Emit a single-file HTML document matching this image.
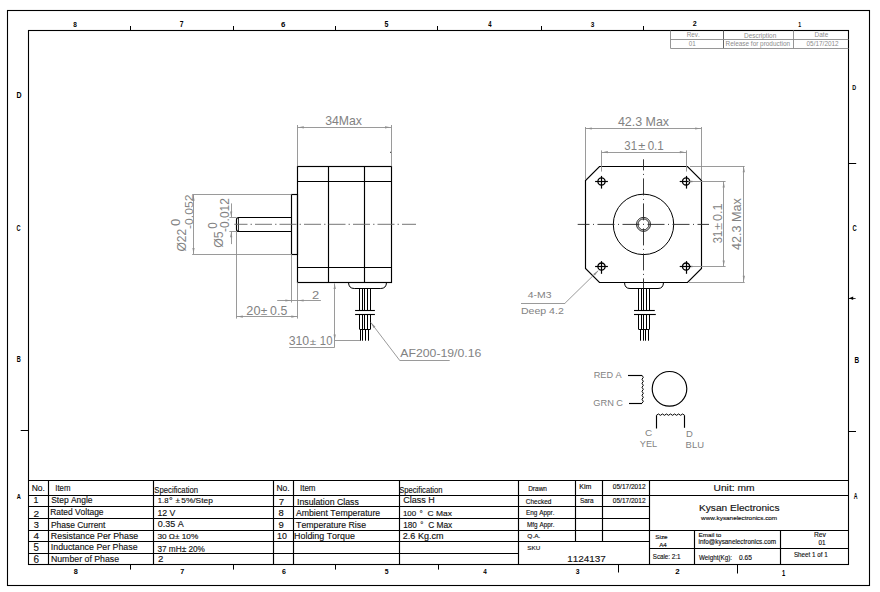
<!DOCTYPE html>
<html><head><meta charset="utf-8"><style>
html,body{margin:0;padding:0;background:#fff;}
body{width:880px;height:592px;overflow:hidden;position:relative;}
svg{position:absolute;left:0;top:0;font-family:"Liberation Sans",sans-serif;font-kerning:none;}
</style></head><body>
<svg width="880" height="592" viewBox="0 0 880 592">
<rect x="0" y="0" width="880" height="592" fill="#fff"/>
<rect x="7.50" y="10.50" width="862.00" height="575.00" fill="none" stroke="#000" stroke-width="1.10"/>
<rect x="28.50" y="30.50" width="820.00" height="534.00" fill="none" stroke="#000" stroke-width="1.10"/>
<line x1="130.50" y1="26.00" x2="130.50" y2="30.50" stroke="#000" stroke-width="1.00"/>
<line x1="233.50" y1="26.00" x2="233.50" y2="30.50" stroke="#000" stroke-width="1.00"/>
<line x1="335.50" y1="26.00" x2="335.50" y2="30.50" stroke="#000" stroke-width="1.00"/>
<line x1="437.50" y1="26.00" x2="437.50" y2="30.50" stroke="#000" stroke-width="1.00"/>
<line x1="541.50" y1="26.00" x2="541.50" y2="30.50" stroke="#000" stroke-width="1.00"/>
<line x1="643.50" y1="26.00" x2="643.50" y2="30.50" stroke="#000" stroke-width="1.00"/>
<line x1="130.50" y1="564.30" x2="130.50" y2="569.60" stroke="#000" stroke-width="1.00"/>
<line x1="233.50" y1="564.30" x2="233.50" y2="569.60" stroke="#000" stroke-width="1.00"/>
<line x1="335.50" y1="564.30" x2="335.50" y2="569.60" stroke="#000" stroke-width="1.00"/>
<line x1="438.50" y1="564.30" x2="438.50" y2="569.60" stroke="#000" stroke-width="1.00"/>
<line x1="618.50" y1="564.30" x2="618.50" y2="572.50" stroke="#000" stroke-width="1.00"/>
<line x1="737.50" y1="564.30" x2="737.50" y2="573.50" stroke="#000" stroke-width="1.00"/>
<line x1="20.70" y1="430.50" x2="28.50" y2="430.50" stroke="#000" stroke-width="1.00"/>
<line x1="848.50" y1="163.50" x2="856.20" y2="163.50" stroke="#000" stroke-width="1.00"/>
<line x1="848.50" y1="298.50" x2="855.60" y2="298.50" stroke="#000" stroke-width="0.80"/>
<path d="M849 298.2 L853.2 296.4 L853.2 299.9 Z" fill="#000"/>
<line x1="848.50" y1="431.50" x2="856.00" y2="431.50" stroke="#000" stroke-width="1.00"/>
<text transform="translate(73.29 26.70) scale(0.8083 1)" font-size="8.02" fill="#000" font-weight="bold">8</text>
<text transform="translate(179.81 26.70) scale(0.8378 1)" font-size="8.14" fill="#000" font-weight="bold">7</text>
<text transform="translate(280.91 26.70) scale(0.9802 1)" font-size="8.02" fill="#000" font-weight="bold">6</text>
<text transform="translate(384.38 26.70) scale(0.8642 1)" font-size="8.14" fill="#000" font-weight="bold">5</text>
<text transform="translate(488.21 26.70) scale(0.7339 1)" font-size="8.14" fill="#000" font-weight="bold">4</text>
<text transform="translate(590.65 26.70) scale(0.8027 1)" font-size="8.02" fill="#000" font-weight="bold">3</text>
<text transform="translate(692.76 25.90) scale(0.8966 1)" font-size="7.88" fill="#000" font-weight="bold">2</text>
<text transform="translate(798.28 27.00) scale(0.6824 1)" font-size="7.56" fill="#000" font-weight="bold">1</text>
<text transform="translate(73.87 574.10) scale(0.9258 1)" font-size="7.88" fill="#000" font-weight="bold">8</text>
<text transform="translate(180.19 574.10) scale(0.9064 1)" font-size="7.99" fill="#000" font-weight="bold">7</text>
<text transform="translate(282.04 574.10) scale(0.8929 1)" font-size="7.88" fill="#000" font-weight="bold">6</text>
<text transform="translate(384.79 574.10) scale(0.8548 1)" font-size="7.99" fill="#000" font-weight="bold">5</text>
<text transform="translate(483.30 574.10) scale(0.7940 1)" font-size="7.99" fill="#000" font-weight="bold">4</text>
<text transform="translate(575.74 574.10) scale(0.8684 1)" font-size="7.88" fill="#000" font-weight="bold">3</text>
<text transform="translate(675.23 574.10) scale(1.0020 1)" font-size="7.88" fill="#000" font-weight="bold">2</text>
<text transform="translate(781.93 575.90) scale(0.7003 1)" font-size="8.29" fill="#000" font-weight="bold">1</text>
<text transform="translate(16.53 98.00) scale(0.8317 1)" font-size="8.43" fill="#000" font-weight="bold">D</text>
<text transform="translate(16.57 231.00) scale(0.6478 1)" font-size="8.74" fill="#000" font-weight="bold">C</text>
<text transform="translate(16.73 362.00) scale(0.6288 1)" font-size="8.87" fill="#000" font-weight="bold">B</text>
<text transform="translate(16.76 498.70) scale(0.7085 1)" font-size="7.99" fill="#000" font-weight="bold">A</text>
<text transform="translate(852.34 90.00) scale(0.7259 1)" font-size="7.41" fill="#000" font-weight="bold">D</text>
<text transform="translate(852.56 231.00) scale(0.6997 1)" font-size="8.31" fill="#000" font-weight="bold">C</text>
<text transform="translate(854.57 362.60) scale(0.7719 1)" font-size="8.29" fill="#000" font-weight="bold">B</text>
<text transform="translate(853.77 498.60) scale(0.6297 1)" font-size="8.29" fill="#000" font-weight="bold">A</text>
<line x1="670.50" y1="30.50" x2="670.50" y2="48.40" stroke="#8a8a8a" stroke-width="0.90"/>
<line x1="723.50" y1="30.50" x2="723.50" y2="48.40" stroke="#555" stroke-width="0.90"/>
<line x1="793.50" y1="30.50" x2="793.50" y2="48.40" stroke="#8a8a8a" stroke-width="0.90"/>
<line x1="670.50" y1="39.50" x2="848.50" y2="39.50" stroke="#8a8a8a" stroke-width="0.90"/>
<line x1="670.50" y1="48.50" x2="848.50" y2="48.50" stroke="#8a8a8a" stroke-width="0.90"/>
<text transform="translate(686.68 37.10) scale(0.9059 1)" font-size="6.98" fill="#8c8c8c">Rev.</text>
<text transform="translate(743.97 37.70) scale(0.9971 1)" font-size="6.49" fill="#8c8c8c">Description</text>
<text transform="translate(814.57 37.10) scale(0.9931 1)" font-size="6.54" fill="#8c8c8c">Date</text>
<text transform="translate(688.86 45.90) scale(0.9483 1)" font-size="6.59" fill="#8c8c8c">01</text>
<text transform="translate(725.57 45.90) scale(0.9905 1)" font-size="6.49" fill="#8c8c8c">Release for production</text>
<text transform="translate(806.55 45.90) scale(1.0127 1)" font-size="6.35" fill="#8c8c8c">05/17/2012</text>
<rect x="297.50" y="166.50" width="94.00" height="116.00" fill="none" stroke="#000" stroke-width="1.15"/>
<line x1="297.40" y1="181.50" x2="391.40" y2="181.50" stroke="#000" stroke-width="1.15"/>
<line x1="297.40" y1="267.50" x2="391.40" y2="267.50" stroke="#000" stroke-width="1.15"/>
<line x1="328.50" y1="166.30" x2="328.50" y2="282.30" stroke="#000" stroke-width="1.15"/>
<line x1="364.50" y1="166.30" x2="364.50" y2="282.30" stroke="#000" stroke-width="1.15"/>
<rect x="291.50" y="194.50" width="6.00" height="60.00" fill="none" stroke="#000" stroke-width="1.15"/>
<path d="M291.5 217.5 L238.8 217.5 Q236.5 217.5 236.5 219.8 L236.5 229.2 Q236.5 231.5 238.8 231.5 L291.5 231.5" fill="none" stroke="#000" stroke-width="1.15"/>
<line x1="238.50" y1="217.60" x2="238.50" y2="231.10" stroke="#000" stroke-width="0.80"/>
<path d="M348.5 282.5 Q348.7 288.5 354.3 288.5 L380.7 288.5 Q386.3 288.5 386.5 282.5" fill="none" stroke="#000" stroke-width="1.00"/>
<line x1="359.50" y1="288.60" x2="359.50" y2="310.30" stroke="#000" stroke-width="1.05"/>
<line x1="359.50" y1="314.40" x2="359.50" y2="329.10" stroke="#000" stroke-width="1.05"/>
<line x1="362.50" y1="288.60" x2="362.50" y2="310.30" stroke="#000" stroke-width="1.05"/>
<line x1="362.50" y1="314.40" x2="362.50" y2="329.10" stroke="#000" stroke-width="1.05"/>
<line x1="364.50" y1="288.60" x2="364.50" y2="310.30" stroke="#000" stroke-width="1.05"/>
<line x1="364.50" y1="314.40" x2="364.50" y2="329.10" stroke="#000" stroke-width="1.05"/>
<line x1="367.50" y1="288.60" x2="367.50" y2="310.30" stroke="#000" stroke-width="1.05"/>
<line x1="367.50" y1="314.40" x2="367.50" y2="329.10" stroke="#000" stroke-width="1.05"/>
<line x1="370.50" y1="288.60" x2="370.50" y2="310.30" stroke="#000" stroke-width="1.05"/>
<line x1="370.50" y1="314.40" x2="370.50" y2="329.10" stroke="#000" stroke-width="1.05"/>
<line x1="359.50" y1="329.50" x2="370.50" y2="329.50" stroke="#000" stroke-width="1.05"/>
<line x1="360.50" y1="329.10" x2="360.50" y2="340.70" stroke="#000" stroke-width="1.05"/>
<line x1="362.50" y1="329.10" x2="362.50" y2="340.70" stroke="#000" stroke-width="1.05"/>
<line x1="365.50" y1="329.10" x2="365.50" y2="340.70" stroke="#000" stroke-width="1.05"/>
<line x1="368.50" y1="329.10" x2="368.50" y2="340.70" stroke="#000" stroke-width="1.05"/>
<line x1="355.10" y1="310.50" x2="374.90" y2="310.50" stroke="#000" stroke-width="1.10"/>
<line x1="355.10" y1="314.50" x2="374.90" y2="314.50" stroke="#000" stroke-width="1.10"/>
<line x1="416" y1="224.3" x2="234.3" y2="224.3" stroke="#666" stroke-width="0.9" stroke-dasharray="17 3 1.5 3" stroke-dashoffset="3"/>
<rect x="390.2" y="151.8" width="1" height="1" fill="#000"/>
<line x1="297.50" y1="125.00" x2="297.50" y2="166.30" stroke="#8e8e8e" stroke-width="0.90"/>
<line x1="391.50" y1="125.00" x2="391.50" y2="166.30" stroke="#8e8e8e" stroke-width="0.90"/>
<line x1="297.50" y1="127.50" x2="391.30" y2="127.50" stroke="#8e8e8e" stroke-width="0.90"/>
<path d="M298.30 127.30 L303.80 126.20 L303.80 128.40 Z" fill="#8e8e8e"/>
<path d="M390.50 127.30 L385.00 128.40 L385.00 126.20 Z" fill="#8e8e8e"/>
<text transform="translate(325.13 124.75) scale(1.0099 1)" font-size="12.17" fill="#828282">34Max</text>
<line x1="192.20" y1="194.50" x2="291.50" y2="194.50" stroke="#8e8e8e" stroke-width="0.90"/>
<line x1="192.20" y1="254.50" x2="291.50" y2="254.50" stroke="#8e8e8e" stroke-width="0.90"/>
<line x1="193.50" y1="194.50" x2="193.50" y2="254.20" stroke="#8e8e8e" stroke-width="0.90"/>
<path d="M193.50 195.30 L194.60 200.80 L192.40 200.80 Z" fill="#8e8e8e"/>
<path d="M193.50 253.40 L192.40 247.90 L194.60 247.90 Z" fill="#8e8e8e"/>
<text transform="translate(186.00 251.62) rotate(-90) scale(0.9396 1)" font-size="12.85" fill="#828282">Ø22</text>
<text transform="translate(180.00 226.11) rotate(-90) scale(1.0225 1)" font-size="12.89" fill="#828282">0</text>
<text transform="translate(192.60 229.04) rotate(-90) scale(1.0636 1)" font-size="11.46" fill="#828282">-0.052</text>
<line x1="229.40" y1="217.50" x2="236.50" y2="217.50" stroke="#8e8e8e" stroke-width="0.90"/>
<line x1="229.40" y1="231.50" x2="236.50" y2="231.50" stroke="#8e8e8e" stroke-width="0.90"/>
<line x1="231.50" y1="203.40" x2="231.50" y2="217.20" stroke="#8e8e8e" stroke-width="0.90"/>
<line x1="231.50" y1="231.50" x2="231.50" y2="244.10" stroke="#8e8e8e" stroke-width="0.90"/>
<path d="M231.20 217.00 L230.10 211.50 L232.30 211.50 Z" fill="#8e8e8e"/>
<path d="M231.20 231.70 L232.30 237.20 L230.10 237.20 Z" fill="#8e8e8e"/>
<text transform="translate(223.40 247.83) rotate(-90) scale(0.9550 1)" font-size="12.99" fill="#828282">Ø5</text>
<text transform="translate(217.00 228.65) rotate(-90) scale(0.9564 1)" font-size="12.03" fill="#828282">0</text>
<text transform="translate(229.00 232.03) rotate(-90) scale(0.9918 1)" font-size="12.03" fill="#828282">-0.012</text>
<line x1="236.50" y1="231.50" x2="236.50" y2="318.60" stroke="#8e8e8e" stroke-width="0.90"/>
<line x1="291.50" y1="254.20" x2="291.50" y2="302.50" stroke="#8e8e8e" stroke-width="0.90"/>
<line x1="297.50" y1="282.30" x2="297.50" y2="318.60" stroke="#8e8e8e" stroke-width="0.90"/>
<line x1="277.20" y1="300.50" x2="320.90" y2="300.50" stroke="#8e8e8e" stroke-width="0.90"/>
<path d="M290.90 300.50 L285.40 301.60 L285.40 299.40 Z" fill="#8e8e8e"/>
<path d="M298.10 300.50 L303.60 299.40 L303.60 301.60 Z" fill="#8e8e8e"/>
<text transform="translate(312.05 298.75) scale(1.0961 1)" font-size="11.82" fill="#828282">2</text>
<line x1="236.50" y1="316.50" x2="297.60" y2="316.50" stroke="#8e8e8e" stroke-width="0.90"/>
<path d="M237.30 316.60 L242.80 315.50 L242.80 317.70 Z" fill="#8e8e8e"/>
<path d="M296.80 316.60 L291.30 317.70 L291.30 315.50 Z" fill="#8e8e8e"/>
<text transform="translate(246.36 314.80) scale(1.0439 1)" font-size="12.17" fill="#828282">20</text>
<text transform="translate(260.72 314.80) scale(1.1843 1)" font-size="10.08" fill="#828282">±</text>
<text transform="translate(270.12 314.80) scale(1.0134 1)" font-size="12.17" fill="#828282">0.5</text>
<line x1="334.50" y1="283.40" x2="334.50" y2="347.30" stroke="#8e8e8e" stroke-width="0.90"/>
<path d="M334.70 283.60 L335.80 289.10 L333.60 289.10 Z" fill="#8e8e8e"/>
<path d="M334.70 340.00 L333.60 334.50 L335.80 334.50 Z" fill="#8e8e8e"/>
<line x1="334.70" y1="340.50" x2="360.00" y2="340.50" stroke="#8e8e8e" stroke-width="0.90"/>
<line x1="289.20" y1="347.50" x2="334.70" y2="347.50" stroke="#8e8e8e" stroke-width="0.90"/>
<text transform="translate(288.63 344.80) scale(1.0118 1)" font-size="12.17" fill="#828282">310</text>
<text transform="translate(309.73 344.80) scale(1.2932 1)" font-size="9.07" fill="#828282">±</text>
<text transform="translate(319.84 344.80) scale(0.9310 1)" font-size="12.17" fill="#828282">10</text>
<line x1="370.80" y1="322.50" x2="399.40" y2="360.00" stroke="#8e8e8e" stroke-width="0.90"/>
<line x1="399.40" y1="360.50" x2="449.70" y2="360.50" stroke="#8e8e8e" stroke-width="0.90"/>
<path d="M370.90 322.60 L375.41 326.70 L373.66 328.04 Z" fill="#8e8e8e"/>
<text transform="translate(400.28 357.40) scale(1.1112 1)" font-size="11.04" fill="#828282">AF200-19/0.16</text>
<path d="M599.5 166.5 L687.5 166.5 L701.5 180.5 L701.5 268.5 L687.5 282.5 L599.5 282.5 L585.5 268.5 L585.5 180.5 Z" fill="none" stroke="#000" stroke-width="1.15"/>
<circle cx="601.50" cy="181.40" r="3.60" fill="none" stroke="#000" stroke-width="1.30"/>
<line x1="595.10" y1="181.50" x2="607.90" y2="181.50" stroke="#000" stroke-width="1.20"/>
<line x1="601.50" y1="175.90" x2="601.50" y2="188.60" stroke="#000" stroke-width="1.20"/>
<circle cx="686.10" cy="181.40" r="3.60" fill="none" stroke="#000" stroke-width="1.30"/>
<line x1="679.70" y1="181.50" x2="692.50" y2="181.50" stroke="#000" stroke-width="1.20"/>
<line x1="686.50" y1="175.90" x2="686.50" y2="188.60" stroke="#000" stroke-width="1.20"/>
<circle cx="601.50" cy="266.60" r="3.60" fill="none" stroke="#000" stroke-width="1.30"/>
<line x1="595.10" y1="266.50" x2="607.90" y2="266.50" stroke="#000" stroke-width="1.20"/>
<line x1="601.50" y1="261.10" x2="601.50" y2="273.80" stroke="#000" stroke-width="1.20"/>
<circle cx="686.10" cy="266.60" r="3.60" fill="none" stroke="#000" stroke-width="1.30"/>
<line x1="679.70" y1="266.50" x2="692.50" y2="266.50" stroke="#000" stroke-width="1.20"/>
<line x1="686.50" y1="261.10" x2="686.50" y2="273.80" stroke="#000" stroke-width="1.20"/>
<circle cx="643.50" cy="224.40" r="30.20" fill="none" stroke="#000" stroke-width="1.00"/>
<circle cx="643.50" cy="224.40" r="7.00" fill="none" stroke="#000" stroke-width="0.85"/>
<circle cx="643.50" cy="224.40" r="5.50" fill="none" stroke="#000" stroke-width="0.85"/>
<line x1="643.5" y1="224.4" x2="709" y2="224.4" stroke="#222" stroke-width="0.9" stroke-dasharray="1 3.5 17 3.5" stroke-dashoffset="0.5"/>
<line x1="643.5" y1="224.4" x2="577.7" y2="224.4" stroke="#222" stroke-width="0.9" stroke-dasharray="1 3.5 17 3.5" stroke-dashoffset="0.5"/>
<line x1="643.5" y1="224.4" x2="643.5" y2="288.5" stroke="#222" stroke-width="0.9" stroke-dasharray="1 3.5 17 3.5" stroke-dashoffset="0.5"/>
<line x1="643.5" y1="224.4" x2="643.5" y2="159.3" stroke="#222" stroke-width="0.9" stroke-dasharray="1 3.5 17 3.5" stroke-dashoffset="0.5"/>
<path d="M624.5 282.5 Q624.7 288.5 630 288.5 L658 288.5 Q663.3 288.5 663.5 282.5" fill="none" stroke="#000" stroke-width="1.00"/>
<line x1="638.50" y1="288.60" x2="638.50" y2="310.30" stroke="#000" stroke-width="1.05"/>
<line x1="638.50" y1="314.30" x2="638.50" y2="329.20" stroke="#000" stroke-width="1.05"/>
<line x1="641.50" y1="288.60" x2="641.50" y2="310.30" stroke="#000" stroke-width="1.05"/>
<line x1="641.50" y1="314.30" x2="641.50" y2="329.20" stroke="#000" stroke-width="1.05"/>
<line x1="643.50" y1="288.60" x2="643.50" y2="310.30" stroke="#000" stroke-width="1.05"/>
<line x1="643.50" y1="314.30" x2="643.50" y2="329.20" stroke="#000" stroke-width="1.05"/>
<line x1="646.50" y1="288.60" x2="646.50" y2="310.30" stroke="#000" stroke-width="1.05"/>
<line x1="646.50" y1="314.30" x2="646.50" y2="329.20" stroke="#000" stroke-width="1.05"/>
<line x1="649.50" y1="288.60" x2="649.50" y2="310.30" stroke="#000" stroke-width="1.05"/>
<line x1="649.50" y1="314.30" x2="649.50" y2="329.20" stroke="#000" stroke-width="1.05"/>
<line x1="638.50" y1="329.50" x2="649.50" y2="329.50" stroke="#000" stroke-width="1.05"/>
<line x1="640.50" y1="329.20" x2="640.50" y2="340.70" stroke="#000" stroke-width="1.05"/>
<line x1="643.50" y1="329.20" x2="643.50" y2="340.70" stroke="#000" stroke-width="1.05"/>
<line x1="645.50" y1="329.20" x2="645.50" y2="340.70" stroke="#000" stroke-width="1.05"/>
<line x1="648.50" y1="329.20" x2="648.50" y2="340.70" stroke="#000" stroke-width="1.05"/>
<line x1="634.00" y1="310.50" x2="654.80" y2="310.50" stroke="#000" stroke-width="1.10"/>
<line x1="634.00" y1="314.50" x2="655.80" y2="314.50" stroke="#000" stroke-width="1.10"/>
<line x1="585.50" y1="127.00" x2="585.50" y2="180.00" stroke="#8e8e8e" stroke-width="0.90"/>
<line x1="701.50" y1="127.00" x2="701.50" y2="180.00" stroke="#8e8e8e" stroke-width="0.90"/>
<line x1="585.50" y1="128.50" x2="701.40" y2="128.50" stroke="#8e8e8e" stroke-width="0.90"/>
<path d="M586.30 128.50 L591.80 127.40 L591.80 129.60 Z" fill="#8e8e8e"/>
<path d="M700.60 128.50 L695.10 129.60 L695.10 127.40 Z" fill="#8e8e8e"/>
<text transform="translate(617.91 125.50) scale(1.0351 1)" font-size="12.03" fill="#828282">42.3 Max</text>
<line x1="601.50" y1="150.40" x2="601.50" y2="171.60" stroke="#8e8e8e" stroke-width="0.90"/>
<line x1="686.50" y1="150.40" x2="686.50" y2="171.60" stroke="#8e8e8e" stroke-width="0.90"/>
<line x1="601.50" y1="152.50" x2="686.10" y2="152.50" stroke="#8e8e8e" stroke-width="0.90"/>
<path d="M602.30 152.20 L607.80 151.10 L607.80 153.30 Z" fill="#8e8e8e"/>
<path d="M685.30 152.20 L679.80 153.30 L679.80 151.10 Z" fill="#8e8e8e"/>
<text transform="translate(624.37 149.90) scale(0.9054 1)" font-size="12.60" fill="#828282">31</text>
<text transform="translate(638.34 149.90) scale(1.2350 1)" font-size="10.42" fill="#828282">±</text>
<text transform="translate(647.65 149.90) scale(0.9200 1)" font-size="12.60" fill="#828282">0.1</text>
<line x1="690.00" y1="166.50" x2="744.70" y2="166.50" stroke="#8e8e8e" stroke-width="0.90"/>
<line x1="688.40" y1="181.50" x2="725.60" y2="181.50" stroke="#8e8e8e" stroke-width="0.90"/>
<line x1="691.00" y1="266.50" x2="725.60" y2="266.50" stroke="#8e8e8e" stroke-width="0.90"/>
<line x1="688.80" y1="282.50" x2="744.70" y2="282.50" stroke="#8e8e8e" stroke-width="0.90"/>
<line x1="723.50" y1="181.30" x2="723.50" y2="266.70" stroke="#8e8e8e" stroke-width="0.90"/>
<line x1="743.50" y1="166.00" x2="743.50" y2="282.00" stroke="#8e8e8e" stroke-width="0.90"/>
<path d="M723.70 182.10 L724.80 187.60 L722.60 187.60 Z" fill="#8e8e8e"/>
<path d="M723.70 265.90 L722.60 260.40 L724.80 260.40 Z" fill="#8e8e8e"/>
<path d="M743.80 166.80 L744.90 172.30 L742.70 172.30 Z" fill="#8e8e8e"/>
<path d="M743.80 281.20 L742.70 275.70 L744.90 275.70 Z" fill="#8e8e8e"/>
<text transform="translate(721.80 243.22) rotate(-90) scale(0.9133 1)" font-size="12.17" fill="#828282">31</text>
<text transform="translate(721.80 230.02) rotate(-90) scale(1.3068 1)" font-size="10.08" fill="#828282">±</text>
<text transform="translate(721.80 220.99) rotate(-90) scale(1.0345 1)" font-size="12.17" fill="#828282">0.1</text>
<text transform="translate(741.40 249.99) rotate(-90) scale(1.0473 1)" font-size="12.03" fill="#828282">42.3 Max</text>
<line x1="598.20" y1="270.70" x2="565.10" y2="303.10" stroke="#8e8e8e" stroke-width="0.90"/>
<line x1="565.10" y1="303.50" x2="521.00" y2="303.50" stroke="#8e8e8e" stroke-width="0.90"/>
<path d="M598.40 270.50 L594.89 275.49 L593.35 273.91 Z" fill="#8e8e8e"/>
<text transform="translate(527.76 298.00) scale(1.0571 1)" font-size="9.88" fill="#828282">4-M3</text>
<text transform="translate(520.93 313.80) scale(1.0853 1)" font-size="9.74" fill="#828282">Deep 4.2</text>
<circle cx="669.50" cy="388.80" r="17.30" fill="none" stroke="#000" stroke-width="1.15"/>
<line x1="628.00" y1="375.50" x2="642.00" y2="375.50" stroke="#000" stroke-width="1.15"/>
<line x1="629.00" y1="403.50" x2="642.00" y2="403.50" stroke="#000" stroke-width="1.15"/>
<path d="M642.0 375.3 q2.6 2.0 0 4.0 q2.6 2.0 0 4.0 q2.6 2.0 0 4.0 q2.6 2.0 0 4.0 q2.6 2.0 0 4.0 q2.6 2.0 0 4.0 q2.6 2.0 0 4.0" fill="none" stroke="#000" stroke-width="1.00"/>
<line x1="656.50" y1="415.30" x2="656.50" y2="428.50" stroke="#000" stroke-width="1.15"/>
<line x1="684.50" y1="415.30" x2="684.50" y2="427.80" stroke="#000" stroke-width="1.15"/>
<path d="M656.4 415.3 q2.02 -2.6 4.03 0 q2.02 -2.6 4.03 0 q2.02 -2.6 4.03 0 q2.02 -2.6 4.03 0 q2.02 -2.6 4.03 0 q2.02 -2.6 4.03 0 q2.02 -2.6 4.03 0" fill="none" stroke="#000" stroke-width="1.00"/>
<text transform="translate(593.65 377.80) scale(0.9293 1)" font-size="9.88" fill="#828282">RED A</text>
<text transform="translate(593.34 406.00) scale(0.9469 1)" font-size="9.74" fill="#828282">GRN C</text>
<text transform="translate(644.99 435.70) scale(1.0853 1)" font-size="9.17" fill="#828282">C</text>
<text transform="translate(639.80 447.00) scale(0.9401 1)" font-size="9.74" fill="#828282">YEL</text>
<text transform="translate(685.92 436.90) scale(1.1025 1)" font-size="8.58" fill="#828282">D</text>
<text transform="translate(685.62 447.90) scale(1.0171 1)" font-size="9.30" fill="#828282">BLU</text>
<line x1="28.50" y1="480.50" x2="848.50" y2="480.50" stroke="#000" stroke-width="1.15"/>
<line x1="28.50" y1="495.50" x2="848.50" y2="495.50" stroke="#000" stroke-width="1.15"/>
<line x1="28.50" y1="506.50" x2="649.40" y2="506.50" stroke="#000" stroke-width="1.15"/>
<line x1="28.50" y1="518.50" x2="649.40" y2="518.50" stroke="#000" stroke-width="1.15"/>
<line x1="28.50" y1="530.50" x2="649.40" y2="530.50" stroke="#000" stroke-width="1.15"/>
<line x1="28.50" y1="541.50" x2="649.40" y2="541.50" stroke="#000" stroke-width="1.15"/>
<line x1="28.50" y1="553.50" x2="518.40" y2="553.50" stroke="#000" stroke-width="1.15"/>
<line x1="649.40" y1="530.50" x2="848.50" y2="530.50" stroke="#000" stroke-width="1.15"/>
<line x1="649.40" y1="548.50" x2="848.50" y2="548.50" stroke="#000" stroke-width="1.15"/>
<line x1="48.50" y1="480.60" x2="48.50" y2="564.30" stroke="#000" stroke-width="1.15"/>
<line x1="153.50" y1="480.60" x2="153.50" y2="564.30" stroke="#000" stroke-width="1.15"/>
<line x1="273.50" y1="480.60" x2="273.50" y2="564.30" stroke="#000" stroke-width="1.15"/>
<line x1="293.50" y1="480.60" x2="293.50" y2="564.30" stroke="#000" stroke-width="1.15"/>
<line x1="399.50" y1="480.60" x2="399.50" y2="564.30" stroke="#000" stroke-width="1.15"/>
<line x1="518.50" y1="480.60" x2="518.50" y2="564.30" stroke="#000" stroke-width="1.15"/>
<line x1="649.50" y1="480.60" x2="649.50" y2="564.30" stroke="#000" stroke-width="1.15"/>
<line x1="575.50" y1="480.60" x2="575.50" y2="541.60" stroke="#000" stroke-width="1.15"/>
<line x1="602.50" y1="480.60" x2="602.50" y2="541.60" stroke="#000" stroke-width="1.15"/>
<line x1="694.50" y1="530.30" x2="694.50" y2="564.30" stroke="#000" stroke-width="1.15"/>
<line x1="780.50" y1="530.30" x2="780.50" y2="564.30" stroke="#000" stroke-width="1.15"/>
<text transform="translate(31.70 491.00) scale(0.9785 1)" font-size="8.72" fill="#111" stroke="#111" stroke-width="0.14">No.</text>
<text transform="translate(55.28 491.00) scale(0.8985 1)" font-size="8.72" fill="#111" stroke="#111" stroke-width="0.14">Item</text>
<text transform="translate(154.35 493.00) scale(0.9018 1)" font-size="8.56" fill="#111" stroke="#111" stroke-width="0.14">Specification</text>
<text transform="translate(33.53 503.10) scale(0.9780 1)" font-size="9.01" fill="#111" stroke="#111" stroke-width="0.14">1</text>
<text transform="translate(51.22 503.10) scale(0.9880 1)" font-size="8.56" fill="#111" stroke="#111" stroke-width="0.14">Step Angle</text>
<text transform="translate(157.81 502.90) scale(0.9618 1)" font-size="8.02" fill="#111" stroke="#111" stroke-width="0.14">1.8</text>
<text transform="translate(169.05 502.90) scale(1.1567 1)" font-size="8.02" fill="#111" stroke="#111" stroke-width="0.14">°</text>
<text transform="translate(175.54 502.90) scale(1.0890 1)" font-size="7.56" fill="#111" stroke="#111" stroke-width="0.14">±</text>
<text transform="translate(181.27 502.90) scale(1.0439 1)" font-size="8.00" fill="#111" stroke="#111" stroke-width="0.14">5%/Step</text>
<text transform="translate(33.49 516.70) scale(1.0847 1)" font-size="9.31" fill="#111" stroke="#111" stroke-width="0.14">2</text>
<text transform="translate(50.21 515.20) scale(0.9404 1)" font-size="8.97" fill="#111" stroke="#111" stroke-width="0.14">Rated Voltage</text>
<text transform="translate(157.43 515.60) scale(0.9260 1)" font-size="9.45" fill="#111" stroke="#111" stroke-width="0.14">12 V</text>
<text transform="translate(33.65 528.00) scale(1.0983 1)" font-size="8.45" fill="#111" stroke="#111" stroke-width="0.14">3</text>
<text transform="translate(50.90 528.00) scale(1.0237 1)" font-size="8.28" fill="#111" stroke="#111" stroke-width="0.14">Phase Current</text>
<text transform="translate(157.75 526.80) scale(1.0116 1)" font-size="8.88" fill="#111" stroke="#111" stroke-width="0.14">0.35 A</text>
<text transform="translate(33.57 539.40) scale(1.0189 1)" font-size="9.74" fill="#111" stroke="#111" stroke-width="0.14">4</text>
<text transform="translate(50.87 538.60) scale(1.0338 1)" font-size="8.56" fill="#111" stroke="#111" stroke-width="0.14">Resistance Per Phase</text>
<text transform="translate(157.39 539.40) scale(1.0458 1)" font-size="7.88" fill="#111" stroke="#111" stroke-width="0.14">30 Ω± 10%</text>
<text transform="translate(33.61 550.50) scale(0.8900 1)" font-size="10.90" fill="#111" stroke="#111" stroke-width="0.14">5</text>
<text transform="translate(50.78 549.70) scale(0.9552 1)" font-size="9.25" fill="#111" stroke="#111" stroke-width="0.14">Inductance Per Phase</text>
<text transform="translate(157.39 551.50) scale(0.9927 1)" font-size="8.31" fill="#111" stroke="#111" stroke-width="0.14">37 mH± 20%</text>
<text transform="translate(33.49 562.60) scale(0.9944 1)" font-size="10.03" fill="#111" stroke="#111" stroke-width="0.14">6</text>
<text transform="translate(50.88 562.00) scale(0.9939 1)" font-size="8.83" fill="#111" stroke="#111" stroke-width="0.14">Number of Phase</text>
<text transform="translate(158.11 561.50) scale(1.0705 1)" font-size="9.02" fill="#111" stroke="#111" stroke-width="0.14">2</text>
<text transform="translate(276.40 491.00) scale(0.9785 1)" font-size="8.72" fill="#111" stroke="#111" stroke-width="0.14">No.</text>
<text transform="translate(299.96 491.00) scale(0.9178 1)" font-size="8.72" fill="#111" stroke="#111" stroke-width="0.14">Item</text>
<text transform="translate(399.25 493.00) scale(0.8913 1)" font-size="8.56" fill="#111" stroke="#111" stroke-width="0.14">Specification</text>
<text transform="translate(278.70 505.30) scale(1.0570 1)" font-size="9.16" fill="#111" stroke="#111" stroke-width="0.14">7</text>
<text transform="translate(296.99 504.50) scale(1.0774 1)" font-size="8.14" fill="#111" stroke="#111" stroke-width="0.14">Insulation Class</text>
<text transform="translate(403.14 503.40) scale(1.0549 1)" font-size="8.56" fill="#111" stroke="#111" stroke-width="0.14">Class H</text>
<text transform="translate(278.59 516.40) scale(1.1097 1)" font-size="8.45" fill="#111" stroke="#111" stroke-width="0.14">8</text>
<text transform="translate(295.88 516.40) scale(0.9893 1)" font-size="8.83" fill="#111" stroke="#111" stroke-width="0.14">Ambient Temperature</text>
<text transform="translate(402.89 515.80) scale(1.0323 1)" font-size="7.73" fill="#111" stroke="#111" stroke-width="0.14">100</text>
<text transform="translate(419.51 515.80) scale(1.0232 1)" font-size="8.02" fill="#111" stroke="#111" stroke-width="0.14">°</text>
<text transform="translate(427.57 515.80) scale(1.0929 1)" font-size="7.73" fill="#111" stroke="#111" stroke-width="0.14">C Max</text>
<text transform="translate(278.55 528.00) scale(1.1273 1)" font-size="8.45" fill="#111" stroke="#111" stroke-width="0.14">9</text>
<text transform="translate(296.10 527.70) scale(1.0220 1)" font-size="8.56" fill="#111" stroke="#111" stroke-width="0.14">Temperature Rise</text>
<text transform="translate(403.18 527.60) scale(1.0016 1)" font-size="8.16" fill="#111" stroke="#111" stroke-width="0.14">180</text>
<text transform="translate(420.23 527.60) scale(0.9290 1)" font-size="8.45" fill="#111" stroke="#111" stroke-width="0.14">°</text>
<text transform="translate(428.18 527.60) scale(1.0224 1)" font-size="8.16" fill="#111" stroke="#111" stroke-width="0.14">C Max</text>
<text transform="translate(277.03 538.60) scale(0.9940 1)" font-size="8.88" fill="#111" stroke="#111" stroke-width="0.14">10</text>
<text transform="translate(294.07 538.60) scale(1.0397 1)" font-size="8.56" fill="#111" stroke="#111" stroke-width="0.14">Holding Torque</text>
<text transform="translate(402.85 538.60) scale(1.0686 1)" font-size="8.45" fill="#111" stroke="#111" stroke-width="0.14">2.6 Kg.cm</text>
<text transform="translate(528.16 490.70) scale(0.9553 1)" font-size="6.83" fill="#111" stroke="#111" stroke-width="0.14">Drawn</text>
<text transform="translate(579.32 489.00) scale(1.1107 1)" font-size="6.35" fill="#111" stroke="#111" stroke-width="0.14">Kim</text>
<text transform="translate(612.84 489.00) scale(1.0287 1)" font-size="6.35" fill="#111" stroke="#111" stroke-width="0.14">05/17/2012</text>
<text transform="translate(525.87 503.60) scale(0.9939 1)" font-size="6.49" fill="#111" stroke="#111" stroke-width="0.14">Checked</text>
<text transform="translate(579.91 502.60) scale(0.9767 1)" font-size="6.59" fill="#111" stroke="#111" stroke-width="0.14">Sara</text>
<text transform="translate(612.84 502.60) scale(1.0287 1)" font-size="6.35" fill="#111" stroke="#111" stroke-width="0.14">05/17/2012</text>
<text transform="translate(525.97 514.50) scale(0.9034 1)" font-size="7.12" fill="#111" stroke="#111" stroke-width="0.14">Eng Appr.</text>
<text transform="translate(527.08 526.50) scale(0.9181 1)" font-size="6.91" fill="#111" stroke="#111" stroke-width="0.14">Mfg Appr.</text>
<text transform="translate(527.29 537.90) scale(1.0640 1)" font-size="6.16" fill="#111" stroke="#111" stroke-width="0.14">Q.A.</text>
<text transform="translate(527.31 549.80) scale(1.0489 1)" font-size="6.02" fill="#111" stroke="#111" stroke-width="0.14">SKU</text>
<text transform="translate(567.24 561.80) scale(1.0196 1)" font-size="9.74" fill="#111" stroke="#111" stroke-width="0.14">1124137</text>
<text transform="translate(713.51 491.10) scale(1.0941 1)" font-size="9.38" fill="#111" stroke="#111" stroke-width="0.14">Unit: mm</text>
<text transform="translate(699.07 510.80) scale(1.0940 1)" font-size="9.25" fill="#111" stroke="#111" stroke-width="0.14">Kysan Electronics</text>
<text transform="translate(701.11 519.90) scale(1.0713 1)" font-size="5.93" fill="#111" stroke="#111" stroke-width="0.14">www.kysanelectronics.com</text>
<text transform="translate(655.21 538.90) scale(1.1065 1)" font-size="5.80" fill="#111" stroke="#111" stroke-width="0.14">Size</text>
<text transform="translate(659.19 546.60) scale(1.0679 1)" font-size="5.81" fill="#111" stroke="#111" stroke-width="0.14">A4</text>
<text transform="translate(698.48 536.90) scale(1.0930 1)" font-size="5.80" fill="#111" stroke="#111" stroke-width="0.14">Email to</text>
<text transform="translate(698.57 543.75) scale(1.0147 1)" font-size="6.28" fill="#111" stroke="#111" stroke-width="0.14">info@kysanelectronics.com</text>
<text transform="translate(813.95 537.00) scale(0.9857 1)" font-size="6.83" fill="#111" stroke="#111" stroke-width="0.14">Rev</text>
<text transform="translate(818.45 545.40) scale(0.9230 1)" font-size="6.87" fill="#111" stroke="#111" stroke-width="0.14">01</text>
<text transform="translate(652.72 559.10) scale(0.8878 1)" font-size="7.04" fill="#111" stroke="#111" stroke-width="0.14">Scale: 2:1</text>
<text transform="translate(698.97 559.70) scale(0.9846 1)" font-size="6.35" fill="#111" stroke="#111" stroke-width="0.14">Weight(Kg):</text>
<text transform="translate(739.04 560.00) scale(0.9876 1)" font-size="6.73" fill="#111" stroke="#111" stroke-width="0.14">0.65</text>
<text transform="translate(793.91 556.60) scale(0.9515 1)" font-size="6.62" fill="#111" stroke="#111" stroke-width="0.14">Sheet 1 of 1</text>
</svg>
</body></html>
